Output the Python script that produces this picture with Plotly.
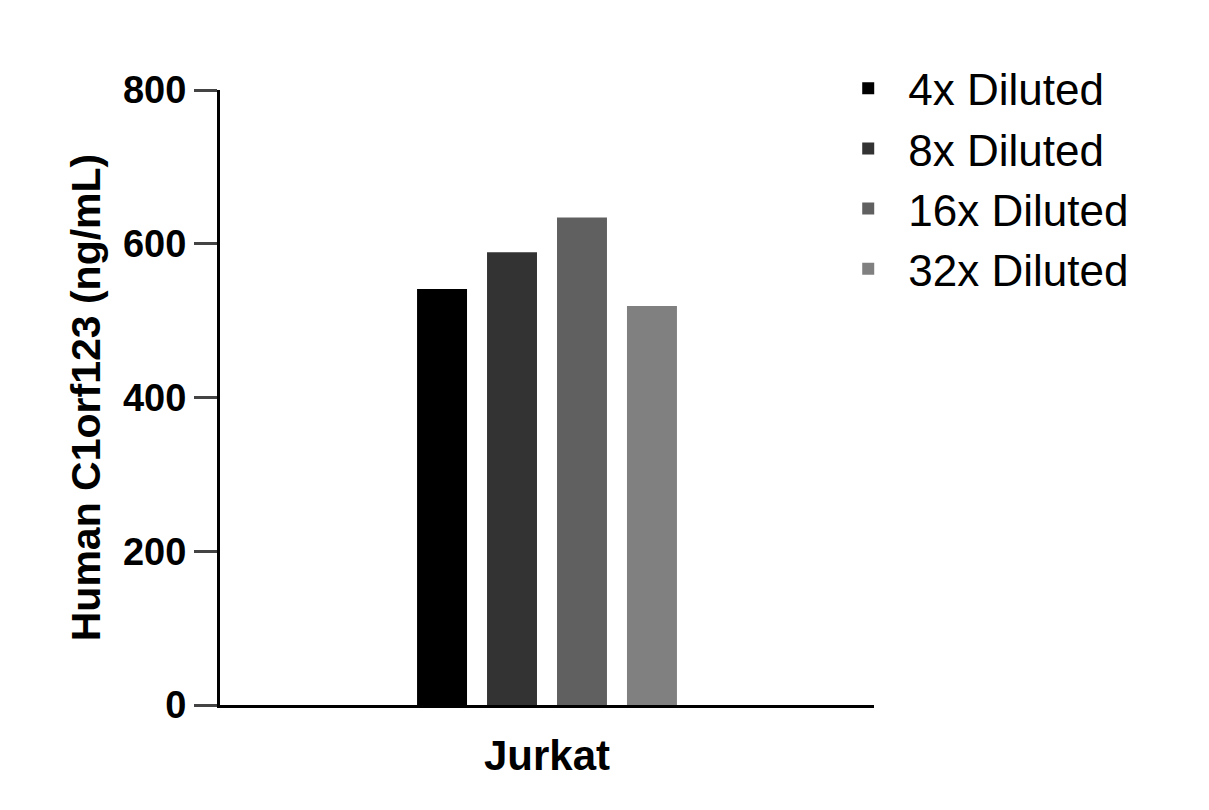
import plotly.graph_objects as go

categories = ["Jurkat"]
series_names = ["4x Diluted", "8x Diluted", "16x Diluted", "32x Diluted"]
values = [541, 589, 634, 519]
colors = ["#000000", "#333333", "#606060", "#808080"]
y_ticks = [0, 200, 400, 600, 800]

fig = go.Figure()
for i, (n, v, c) in enumerate(zip(series_names, values, colors)):
    fig.add_trace(go.Bar(x=categories, y=[v], name=n, marker_color=c,
                         marker_line_width=0, legendgroup=str(i)))

fig.update_layout(
    width=1209, height=810, plot_bgcolor="white", paper_bgcolor="white",
    margin=dict(l=212, r=343, t=82, b=113),
    barmode="group", bargap=0.572, bargroupgap=0.286,
    font=dict(family="Liberation Sans, Arial", color="black"),
    legend=dict(x=0.93, y=1.06, xanchor="left", yanchor="top", itemwidth=70,
                font=dict(size=44), tracegroupgap=34, traceorder="normal"),
    xaxis=dict(showline=True, linecolor="black", linewidth=3, ticks="",
               tickfont=dict(size=42, family="Liberation Sans", weight="bold"),
               ticklabelstandoff=12),
    yaxis=dict(range=[0, 800], tickvals=y_ticks, showline=True, linecolor="black",
               linewidth=3, ticks="outside", ticklen=23, tickwidth=3,
               showgrid=False, zeroline=False,
               tickfont=dict(size=38, family="Liberation Sans", weight="bold"),
               title=dict(text="Human C1orf123 (ng/mL)", standoff=10,
                          font=dict(size=41, family="Liberation Sans", weight="bold"))),
)
fig.write_html("out.html")
